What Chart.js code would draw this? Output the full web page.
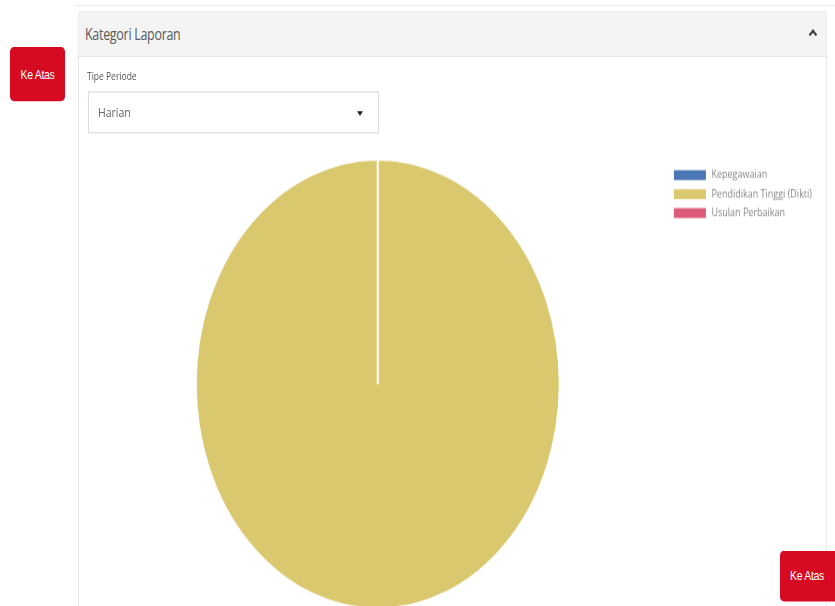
<!DOCTYPE html>
<html>
<head>
<meta charset="utf-8">
<script src="https://cdn.jsdelivr.net/npm/chart.js@4.4.0/dist/chart.umd.min.js"></script>
<style>
  html, body { margin: 0; padding: 0; background: #fff; overflow: hidden; }
  body { width: 835px; height: 606px; font-family: "Open Sans", sans-serif; }
  #page {
    position: relative;
    width: 835px;
    height: 491px;
    transform: scaleY(1.235);
    transform-origin: 0 0;
  }
  #topline { position: absolute; left: 75px; top: 4px; width: 760px; height: 1px; background: #ececec; }
  #card {
    position: absolute; left: 78px; top: 9px; width: 749px; height: 500px;
    border: 1px solid #ebebeb; box-sizing: border-box;
  }
  #header {
    height: 35px; background: #f4f4f4; border-bottom: 1px solid #e6e6e6;
    position: relative;
  }
  #title {
    position: absolute; left: 6px; top: 9px; font-size: 12.5px; color: #5a5a5a;
    letter-spacing: -0.3px;
  }
  #chev {
    position: absolute; right: 10px; top: 15px; width: 4px; height: 4px;
    border-left: 2px solid #444; border-top: 2px solid #444; transform: rotate(45deg);
  }
  #label { position: absolute; left: 87px; top: 56px; font-size: 8.5px; color: #555; }
  #select {
    position: absolute; left: 88px; top: 74px; width: 291px; height: 34px;
    border: 1px solid #dcdcdc; box-sizing: border-box;
  }
  #select span { position: absolute; left: 9px; top: 9px; font-size: 10.5px; color: #666; }
  #caret {
    position: absolute; left: 268px; top: 15px; width: 0; height: 0;
    border-left: 3px solid transparent; border-right: 3px solid transparent; border-top: 4px solid #222;
  }
  #chartBox { position: absolute; left: 88px; top: 128px; width: 734px; height: 366px; }
  .btn {
    position: absolute; background: #d60b22; color: #fff; border-radius: 4px;
    font-family: "Liberation Sans Narrow", "Liberation Sans", sans-serif; font-size: 10.5px;
    text-align: center; letter-spacing: -0.3px;
  }
  #btnLeft { left: 10px; top: 38px; width: 55px; height: 44px; line-height: 44px; }
  #btnRight { left: 780px; top: 446px; width: 60px; height: 41px; line-height: 41px; text-indent: -6px; }
</style>
</head>
<body>
<div id="page">
  <div id="topline"></div>
  <div id="card">
    <div id="header">
      <div id="title">Kategori Laporan</div>
      <div id="chev"></div>
    </div>
  </div>
  <div id="label">Tipe Periode</div>
  <div id="select"><span>Harian</span><div id="caret"></div></div>
  <div id="chartBox"><canvas id="chart"></canvas></div>
  <div class="btn" id="btnLeft">Ke Atas</div>
  <div class="btn" id="btnRight">Ke Atas</div>
</div>
<script>
const categories = ['Kepegawaian', 'Pendidikan Tinggi (Dikti)', 'Usulan Perbaikan'];
const reportCounts = [0, 1, 0];
const sliceColors = ['#4a77b4', '#dac86f', '#dc5a7a'];

const ctx = document.getElementById('chart');
new Chart(ctx, {
  type: 'pie',
  data: {
    labels: categories,
    datasets: [{
      data: reportCounts,
      backgroundColor: sliceColors,
      borderColor: '#fff',
      borderWidth: 2,
    }],
  },
  options: {
    responsive: true,
    maintainAspectRatio: false,
    animation: false,
    plugins: {
      tooltip: { enabled: false },
      legend: {
        position: 'right',
        align: 'start',
        title: { display: true, text: ' ', padding: 0, font: { size: 2.8 } },
        labels: {
          boxWidth: 34,
          boxHeight: 10,
          padding: 5.4,
          color: '#888',
          font: { family: 'Open Sans', size: 9 },
        },
      },
    },
  },
});
</script>
</body>
</html>
